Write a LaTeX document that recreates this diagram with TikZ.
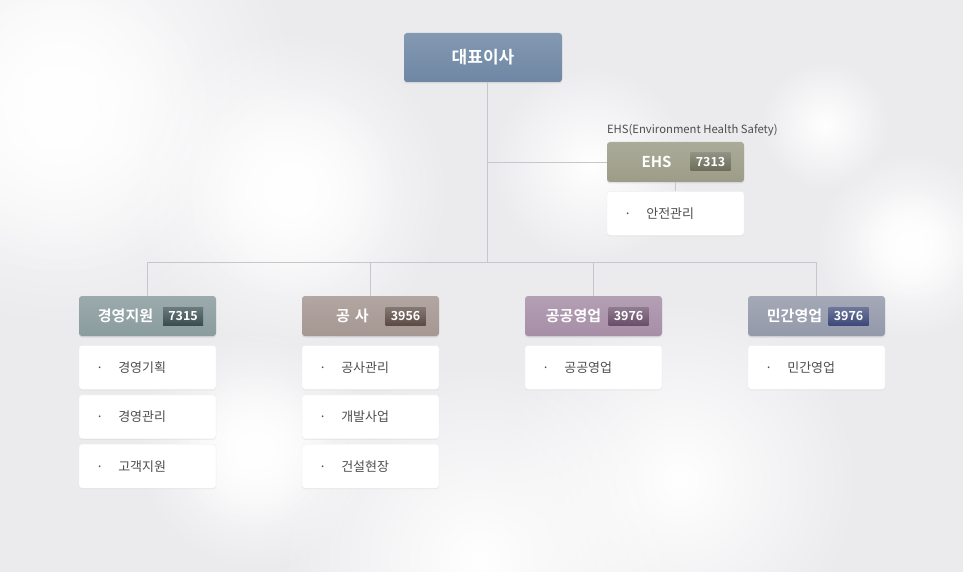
\documentclass[tikz,border=0pt]{standalone}
\usepackage{fontspec}
\setmainfont{Noto Sans CJK KR}[BoldFont={Noto Sans CJK KR Bold}]
\usepackage{xcolor}
\usepackage{tikz}
\usetikzlibrary{positioning,calc,shadows,fadings}
\definecolor{bgcol}{HTML}{EBEBEE}
\definecolor{linecol}{HTML}{C6C7CC}
\definecolor{subtext}{HTML}{4E4E4E}
\definecolor{ceocol}{HTML}{6E87A4}
\definecolor{ehscol}{HTML}{9C9C88}
\definecolor{ehsbadge}{HTML}{6C6C5A}
\definecolor{mgmtcol}{HTML}{8A9C9E}
\definecolor{mgmtbadge}{HTML}{3A4E50}
\definecolor{conscol}{HTML}{A59792}
\definecolor{consbadge}{HTML}{5C4B45}
\definecolor{pubcol}{HTML}{A68EA7}
\definecolor{pubbadge}{HTML}{6A4F6B}
\definecolor{privcol}{HTML}{9499AA}
\definecolor{privbadge}{HTML}{3D4A7A}
\tikzfading[name=softblob, inner color=transparent!0, outer color=transparent!100]
\tikzset{
  orghead/.style={rounded corners=3pt, minimum width=137pt, minimum height=40pt,
                  inner sep=0pt, top color=#1!85!white, bottom color=#1,
                  drop shadow={shadow xshift=0pt, shadow yshift=-1.5pt, opacity=0.18}},
  orgname/.style={text=white, font=\fontsize{15}{17}\selectfont\bfseries},
  orgbadge/.style={top color=#1!75!white, bottom color=#1, text=white, minimum width=40pt,
                   minimum height=18pt, inner sep=0pt, font=\fontsize{12.5}{14}\selectfont\bfseries},
  orgsub/.style={draw=black!7, fill=white, rounded corners=3pt, minimum width=137pt,
                 minimum height=44pt, text width=103pt, inner xsep=17pt, align=left,
                 text=subtext, font=\fontsize{13}{15}\selectfont,
                 drop shadow={shadow xshift=0pt, shadow yshift=-1pt, opacity=0.10}},
  orglink/.style={draw=linecol, line width=0.8pt},
  blob/.style={fill=white, path fading=softblob}
}
\newcommand{\orgitem}[1]{·\hspace{15pt}#1}

\begin{document}
\begin{tikzpicture}[x=1pt, y=-1pt, node distance=9pt]
\useasboundingbox (0,0) rectangle (963,572);
\fill[bgcol] (0,0) rectangle (963,572);
% soft background light
\foreach \cx/\cy/\r in {60/90/240, 60/120/160, 290/190/160, 290/190/110, 825/125/65,
                        910/245/95, 910/245/60, 255/450/120, 255/450/80, 590/165/100,
                        680/480/180, 480/560/200}
  \fill[blob] (\cx,\cy) circle (\r);

\node[orghead=ceocol, minimum width=158pt, minimum height=49pt] (ceo) at (483,57.5) {};
\node[orgname, font=\fontsize{17}{19}\selectfont\bfseries] at (ceo) {대표이사};

% EHS
\node[orghead=ehscol] (ehs) at (675.5,162) {};
\node[orgname] (ehsName) at ($(ehs)+(-19,0)$) {EHS};
\node[orgbadge=ehsbadge] (ehsNo) at ($(ehs)+(35,0)$) {7313};
\node[anchor=south west, inner sep=0pt, text=subtext, font=\fontsize{11.3}{13}\selectfont]
  (ehsNote) at ($(ehs.north west)+(0,-5)$) {EHS(Environment Health Safety)};
\node[orgsub, below=of ehs] (ehs1) {\orgitem{안전관리}};

% departments
\node[orghead=mgmtcol] (mgmt) at (147.5,316) {};
\node[orgname] at ($(mgmt)+(-22,0)$) {경영지원};
\node[orgbadge=mgmtbadge] at ($(mgmt)+(35.5,0)$) {7315};
\node[orghead=conscol] (cons) at (370.5,316) {};
\node[orgname] at ($(cons)+(-18,0)$) {공\,\,사};
\node[orgbadge=consbadge] at ($(cons)+(35,0)$) {3956};
\node[orghead=pubcol] (pub) at (593.5,316) {};
\node[orgname] at ($(pub)+(-20,0)$) {공공영업};
\node[orgbadge=pubbadge] at ($(pub)+(35,0)$) {3976};
\node[orghead=privcol] (priv) at (816.5,316) {};
\node[orgname] at ($(priv)+(-22,0)$) {민간영업};
\node[orgbadge=privbadge] at ($(priv)+(32,0)$) {3976};

\node[orgsub, below=of mgmt] (mgmt1) {\orgitem{경영기획}};
\node[orgsub, below=5pt of mgmt1] (mgmt2) {\orgitem{경영관리}};
\node[orgsub, below=5pt of mgmt2] (mgmt3) {\orgitem{고객지원}};
\node[orgsub, below=of cons] (cons1) {\orgitem{공사관리}};
\node[orgsub, below=5pt of cons1] (cons2) {\orgitem{개발사업}};
\node[orgsub, below=5pt of cons2] (cons3) {\orgitem{건설현장}};
\node[orgsub, below=of pub] (pub1) {\orgitem{공공영업}};
\node[orgsub, below=of priv] (priv1) {\orgitem{민간영업}};

% connectors
\coordinate (bus) at (487,262);
\draw[orglink] (ceo.south -| bus) -- (bus);
\draw[orglink] (bus |- ehs) -- (ehs.west);
\draw[orglink] (ehs.south) -- (ehs1.north);
\draw[orglink] (bus -| mgmt) -- (bus -| priv);
\foreach \d in {mgmt,cons,pub,priv}
  \draw[orglink] (\d.north) -- (\d.north |- bus);
\end{tikzpicture}
\end{document}
